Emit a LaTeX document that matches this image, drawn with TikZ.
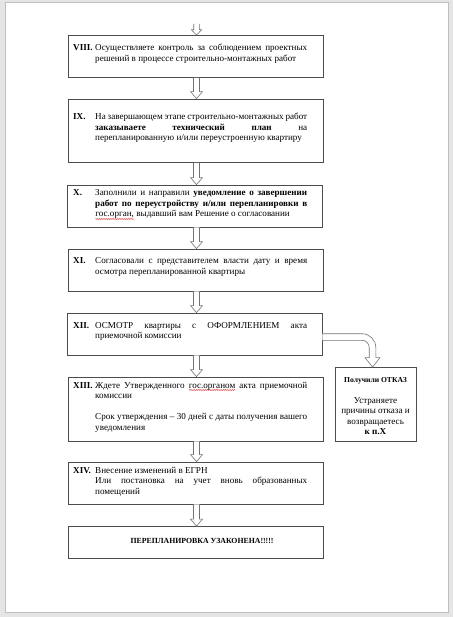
\documentclass[tikz,border=0pt]{standalone}
\usepackage{fontspec}
\setmainfont{Liberation Serif}
\usetikzlibrary{calc,decorations.pathmorphing}
\newcommand\redwave[1]{\tikz[baseline=(w.base),x=1cm,y=1cm]{\node[inner sep=0pt,outer sep=0pt](w){#1};
  \draw[red!85!black, line width=0.35pt, decorate, decoration={snake,amplitude=0.45pt,segment length=1.8pt}] ([yshift=-2pt]w.base west) -- ([yshift=-2pt]w.base east);}}
\newcommand\fs{\fontsize{9.1}{10.5}\selectfont}
\newcommand\myjl[1]{\hbox to 212pt{#1}}
\newcommand\myll[1]{\hbox{#1}}
\newcommand\mycl[1]{\hbox to 81pt{\hfil#1\hfil}}
\newcommand\blkarrow[5]{%
  \draw[blkarr] let \p1=(#1), \p2=(#2) in
    (\x1-#3,\y1) -- (\x1-#3,\y2+#5) -- (\x1-#4,\y2+#5) -- (\x1,\y2)
    -- (\x1+#4,\y2+#5) -- (\x1+#3,\y2+#5) -- (\x1+#3,\y1);}
\begin{document}
\begin{tikzpicture}[x=1pt,y=-1pt,
  box/.style={draw=black!70, line width=0.8pt, rectangle, inner sep=0pt},
  blkarr/.style={draw=black!55, line width=0.6pt, fill=white, line join=miter},
  txt/.style={anchor=base west, inner sep=0pt, font=\fs},
  lbl/.style={anchor=base west, inner sep=0pt, font=\fs\bfseries}]
\useasboundingbox (0,0) rectangle (453,617);
\fill[black!10] (0,0) rectangle (453,617);
\filldraw[fill=white, draw=black!25, line width=0.6pt] (5,2) rectangle (448,612);

% boxes
\node[box, minimum width=255pt, minimum height=42pt] (b8)  at (195.5,56.5) {};
\node[box, minimum width=255pt, minimum height=63.5pt] (b9) at (195.5,130.75) {};
\node[box, minimum width=255pt, minimum height=42pt] (b10) at (194.5,206) {};
\node[box, minimum width=255pt, minimum height=42pt] (b11) at (195.5,270) {};
\node[box, minimum width=255pt, minimum height=42pt] (b12) at (194.5,334) {};
\node[box, minimum width=255pt, minimum height=64pt] (b13) at (195.5,409) {};
\node[box, minimum width=255pt, minimum height=42pt] (b14) at (195.5,483) {};
\node[box, minimum width=255pt, minimum height=31.5pt] (fin) at (195.5,542.25) {};
\node[box, minimum width=81pt, minimum height=74pt] (otkaz) at (375.5,404.5) {};

% texts
\node[lbl] (l8) at (73,51) {VIII.};
\node[txt] (t8) at (95,51) {\vtop{%
  \myjl{Осуществляете контроль за соблюдением проектных}
  \myll{решений в процессе строительно-монтажных работ}}};

\node[lbl] (l9) at (73,120) {IX.};
\node[txt] (t9) at (95,120) {\vtop{%
  \myjl{На завершающем этапе строительно-монтажных работ}
  \myjl{\textbf{заказываете} \textbf{технический} \textbf{план} на}
  \myll{перепланированную и/или переустроенную квартиру}}};

\node[lbl] (l10) at (73,196) {X.};
\node[txt] (t10) at (95,196) {\vtop{%
  \myjl{Заполнили и направили \textbf{уведомление о завершении}}
  \myjl{\textbf{работ по переустройству и/или перепланировки в}}
  \myll{\redwave{гос.орган,} выдавший вам Решение о согласовании}}};

\node[lbl] (l11) at (73,263.5) {XI.};
\node[txt] (t11) at (95,263.5) {\vtop{%
  \myjl{Согласовали с представителем власти дату и время}
  \myll{осмотра перепланированной квартиры}}};

\node[lbl] (l12) at (73,328) {XII.};
\node[txt] (t12) at (95,328) {\vtop{%
  \myjl{ОСМОТР квартиры с ОФОРМЛЕНИЕМ акта}
  \myll{приемочной комиссии}}};

\node[lbl] (l13) at (73,388) {XIII.};
\node[txt] (t13) at (95,388) {\vtop{%
  \myjl{Ждете Утвержденного \redwave{гос.органом} акта приемочной}
  \myll{комиссии}
  \myll{}
  \myjl{Срок утверждения – 30 дней с даты получения вашего}
  \myll{уведомления}}};

\node[lbl] (l14) at (73,473) {XIV.};
\node[txt] (t14) at (95,473) {\vtop{%
  \myll{Внесение изменений в ЕГРН}
  \myjl{Или постановка на учет вновь образованных}
  \myll{помещений}}};

\node[txt, anchor=base, font=\fontsize{7.8}{9}\selectfont\bfseries] (tfin) at (202,543.7) {ПЕРЕПЛАНИРОВКА УЗАКОНЕНА!!!!!};

\node[txt, anchor=base] (tot) at (375.5,382) {\vtop{%
  \mycl{\fontsize{7.6}{9}\selectfont\textbf{Получили ОТКАЗ}}
  \myll{}
  \mycl{Устраняете}
  \mycl{причины отказа и}
  \mycl{возвращаетесь}
  \mycl{\textbf{к п.Х}}}};

% arrows
\coordinate (topin) at (196.5,24);
\blkarrow{topin}{topin|-b8.north}{2.8pt}{5.2pt}{5.5pt}
\blkarrow{[xshift=1pt]b8.south}{b9.north}{3pt}{6pt}{7pt}
\blkarrow{[xshift=1pt]b9.south}{b10.north}{3pt}{6pt}{7pt}
\blkarrow{[xshift=2pt]b10.south}{b11.north}{3pt}{6pt}{7pt}
\blkarrow{[xshift=1pt]b11.south}{b12.north}{3pt}{6pt}{7pt}
\blkarrow{[xshift=2pt]b12.south}{b13.north}{3pt}{6pt}{7pt}
\blkarrow{[xshift=1pt]b13.south}{b14.north}{3pt}{6pt}{7pt}
\blkarrow{[xshift=1pt]b14.south}{fin.north}{3pt}{6pt}{7pt}

% bent arrow to refusal box
\draw[blkarr] let \p1=([yshift=-3pt]b12.east), \p2=([xshift=-3pt]otkaz.north) in
  (\x1,\y1+3.3pt) -- (\x2-10.5pt,\y1+3.3pt)
  .. controls (\x2-2.88pt,\y1+3.3pt) and (\x2+3.3pt,\y1-2.88pt) .. (\x2+3.3pt,\y1-10.5pt)
  -- (\x2+3.3pt,\y2+9.5pt) -- (\x2+7.5pt,\y2+9.5pt) -- (\x2,\y2)
  -- (\x2-7.5pt,\y2+9.5pt) -- (\x2-3.3pt,\y2+9.5pt) -- (\x2-3.3pt,\y1-10.5pt)
  .. controls (\x2-3.3pt,\y1-6.52pt) and (\x2-6.52pt,\y1-3.3pt) .. (\x2-10.5pt,\y1-3.3pt)
  -- (\x1,\y1-3.3pt);
\end{tikzpicture}
\end{document}
